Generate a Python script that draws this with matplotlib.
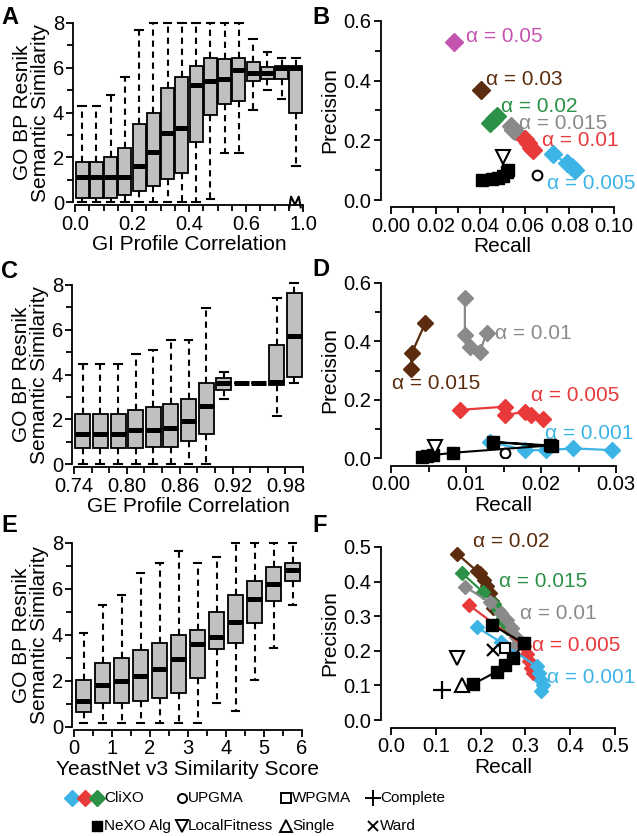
import matplotlib
matplotlib.use('Agg')
import matplotlib.pyplot as plt
from matplotlib.ticker import MultipleLocator, FixedLocator, FixedFormatter
from matplotlib.transforms import blended_transform_factory

plt.rcParams['font.family'] = ['Liberation Sans', 'DejaVu Sans']
plt.rcParams['axes.linewidth'] = 1.3

# ---------------- data ----------------
# box stats: (whisker low, q1, median, q3, whisker high)
A_bins = [0.025, 0.075, 0.125, 0.175, 0.225, 0.275, 0.325, 0.375,
          0.425, 0.475, 0.525, 0.575, 0.625, 0.675, 0.725, 0.975]
A_stats = [(0, 0.2, 1.1, 1.8, 4.3), (0, 0.2, 1.1, 1.8, 4.3), (0, 0.2, 1.1, 2.0, 4.8),
           (0, 0.3, 1.1, 2.4, 5.6), (0, 0.5, 1.6, 3.5, 7.7), (0, 0.7, 2.25, 4.0, 8.0),
           (0, 1.05, 3.1, 5.1, 8.0), (0, 1.3, 3.3, 5.6, 8.0), (0, 2.7, 5.25, 6.1, 8.0),
           (0.15, 3.9, 5.4, 6.45, 8.0), (2.2, 4.4, 5.5, 6.4, 8.0), (2.2, 4.5, 5.9, 6.45, 8.0),
           (4.1, 5.4, 5.75, 6.25, 7.3), (5.0, 5.5, 5.75, 6.05, 6.7), (4.6, 5.5, 6.0, 6.1, 6.45),
           (1.6, 4.0, 6.0, 6.1, 6.45)]

C_bins = [0.75, 0.77, 0.79, 0.81, 0.83, 0.85, 0.87, 0.89, 0.91, 0.93, 0.95, 0.97, 0.99]
C_stats = [(0, 0.7, 1.35, 2.23, 4.46), (0, 0.7, 1.35, 2.23, 4.46), (0, 0.7, 1.35, 2.23, 4.46),
           (0, 0.7, 1.53, 2.42, 4.92), (0, 0.75, 1.53, 2.53, 5.1), (0, 0.75, 1.6, 2.68, 5.52),
           (0, 1.05, 1.93, 2.9, 5.52), (0, 1.35, 2.6, 3.61, 6.99), (2.9, 3.32, 3.6, 3.84, 4.09),
           (3.6, 3.6, 3.6, 3.6, 3.6), (3.6, 3.6, 3.6, 3.6, 3.6), (2.13, 3.55, 3.65, 5.32, 7.4),
           (3.64, 3.91, 5.72, 7.66, 8.1)]

E_bins = [0.25, 0.75, 1.25, 1.75, 2.25, 2.75, 3.25, 3.75, 4.25, 4.75, 5.25, 5.75]
E_stats = [(0.18, 0.66, 1.15, 2.06, 4.07), (0.18, 1.06, 1.84, 2.79, 5.32), (0.18, 1.06, 2.01, 2.98, 5.73),
           (0.18, 1.13, 2.2, 3.35, 6.71), (0.18, 1.28, 2.54, 3.67, 7.15), (0.18, 1.5, 2.94, 4.01, 7.64),
           (0.18, 2.13, 3.63, 4.21, 7.15), (1.03, 3.41, 3.92, 5.02, 7.37), (0.7, 3.67, 4.58, 5.76, 8.0),
           (2.03, 4.52, 5.58, 6.34, 8.0), (3.45, 5.5, 6.21, 6.97, 8.0), (5.29, 6.36, 6.83, 7.15, 8.0)]

# precision / recall, CliXO per alpha
B_alpha = ['0.05', '0.03', '0.02', '0.015', '0.01', '0.005']
B_x = [[0.0284], [0.0404], [0.0445, 0.046, 0.0475], [0.054, 0.0545, 0.0555],
       [0.0602, 0.0615, 0.063, 0.0638], [0.0728, 0.0788, 0.081, 0.0825]]
B_y = [[0.528], [0.370], [0.257, 0.27, 0.283], [0.248, 0.235, 0.23],
       [0.206, 0.19, 0.175, 0.167], [0.153, 0.123, 0.112, 0.10]]
B_nexo_x = [0.0407, 0.0455, 0.048, 0.050, 0.052, 0.0525]
B_nexo_y = [0.067, 0.072, 0.074, 0.08, 0.095, 0.10]
B_local = (0.0501, 0.145)
B_upgma = (0.0654, 0.084)

D_alpha = ['0.015', '0.01', '0.005', '0.001']
D_x = [[0.00456, 0.00276, 0.00262],
       [0.00985, 0.00985, 0.0105, 0.01185, 0.01274],
       [0.0092, 0.0152, 0.0152, 0.0179, 0.0187, 0.0203],
       [0.0132, 0.0179, 0.0207, 0.0243, 0.0294]]
D_y = [[0.462, 0.359, 0.304],
       [0.547, 0.422, 0.382, 0.364, 0.428],
       [0.165, 0.176, 0.147, 0.159, 0.147, 0.133],
       [0.056, 0.027, 0.027, 0.033, 0.027]]
D_nexo_x = [0.0041, 0.0048, 0.0056, 0.0083, 0.0212, 0.0136, 0.0214]
D_nexo_y = [0.004, 0.006, 0.010, 0.018, 0.043, 0.055, 0.040]
D_local = (0.0059, 0.039)
D_upgma = (0.0152, 0.016)

F_alpha = ['0.02', '0.015', '0.01', '0.005', '0.001']
F_x = [[0.147, 0.192, 0.199, 0.207, 0.214, 0.221, 0.225, 0.227],
       [0.158, 0.205, 0.23, 0.24, 0.25, 0.255, 0.26],
       [0.166, 0.22, 0.245, 0.26, 0.27, 0.28, 0.275],
       [0.173, 0.296, 0.303, 0.308, 0.312, 0.317],
       [0.192, 0.245, 0.325, 0.33, 0.335, 0.34, 0.335]]
F_y = [[0.481, 0.43, 0.425, 0.406, 0.386, 0.367, 0.343, 0.324],
       [0.425, 0.37, 0.335, 0.315, 0.295, 0.28, 0.265],
       [0.385, 0.34, 0.31, 0.29, 0.265, 0.24, 0.21],
       [0.333, 0.215, 0.19, 0.17, 0.15, 0.135],
       [0.268, 0.225, 0.155, 0.135, 0.115, 0.10, 0.085]]
F_nexo_x = [0.184, 0.236, 0.255, 0.273, 0.296, 0.225]
F_nexo_y = [0.104, 0.14, 0.159, 0.179, 0.222, 0.275]
F_local = (0.147, 0.179)
F_single = (0.158, 0.101)
F_complete = (0.114, 0.087)
F_wpgma = (0.255, 0.208)
F_ward = (0.227, 0.203)

# ---------------- style ----------------
col = {'0.05': '#c553b0', '0.03': '#5b2c0d', '0.02': '#2a9146', '0.015': '#8a8a8a',
       '0.01': '#e8393b', '0.005': '#3db4e6'}
colD = {'0.015': '#5b2c0d', '0.01': '#8a8a8a', '0.005': '#e8393b', '0.001': '#3db4e6'}
colF = {'0.02': '#5b2c0d', '0.015': '#2a9146', '0.01': '#8a8a8a', '0.005': '#e8393b', '0.001': '#3db4e6'}

W, H = 637, 836
fig = plt.figure(figsize=(W / 100, H / 100), dpi=100)
FS = 15


def px_axes(left, top, right, bottom):
    return fig.add_axes([left / W, 1 - bottom / H, (right - left) / W, (bottom - top) / H])


def style(ax, left_off, bottom_off):
    for s in ['top', 'right']:
        ax.spines[s].set_visible(False)
    ax.spines['left'].set_position(('outward', left_off))
    ax.spines['bottom'].set_position(('outward', bottom_off))
    ax.tick_params(which='major', length=5, width=1.3, labelsize=14.5, direction='out')
    ax.tick_params(which='minor', length=4, width=1.3, direction='out')
    ax.tick_params(axis='y', pad=1.5)
    ax.tick_params(axis='x', pad=2)


def box_panel(ax, pos, stats, width, capw):
    bx = [dict(whislo=s[0], q1=s[1], med=s[2], q3=s[3], whishi=s[4]) for s in stats]
    art = ax.bxp(bx, positions=pos, widths=width, capwidths=capw, showfliers=False,
                 patch_artist=True, manage_ticks=False,
                 boxprops=dict(facecolor='#c0c0c2', edgecolor='black', linewidth=1.3),
                 medianprops=dict(color='black', linewidth=3.6, solid_capstyle='butt'),
                 whiskerprops=dict(color='black', linewidth=1.5, linestyle=(0, (3, 2.3))),
                 capprops=dict(color='black', linewidth=1.5))
    for k in art:
        for a in art[k]:
            a.set_clip_on(False)
    ax.set_ylim(0, 8)
    ax.yaxis.set_major_locator(MultipleLocator(2))
    ax.yaxis.set_minor_locator(MultipleLocator(1))
    ax.set_ylabel('GO BP Resnik\nSemantic Similarity', fontsize=FS, labelpad=2, linespacing=0.95)


# ---------------- A ----------------
axA = px_axes(75, 23, 303, 202)
A_pos = [b if b < 0.8 else 0.775 for b in A_bins]
box_panel(axA, A_pos, A_stats, 0.045, 0.027)
axA.set_xlim(0, 0.8)
axA.xaxis.set_major_locator(FixedLocator([0, 0.2, 0.4, 0.6, 0.8]))
axA.xaxis.set_major_formatter(FixedFormatter(['0.0', '0.2', '0.4', '0.6', '1.0']))
axA.xaxis.set_minor_locator(MultipleLocator(0.05))
style(axA, 1.5, 2)
axA.set_xlabel('GI Profile Correlation', fontsize=FS, labelpad=1)
# axis break mark
tr = blended_transform_factory(axA.transData, axA.transAxes)
axA.plot([0.752, 0.758, 0.772, 0.785, 0.792], [-0.03, 0.03, -0.015, 0.03, -0.03],
         color='black', lw=1.5, transform=tr, clip_on=False, zorder=5)

# ---------------- C ----------------
axC = px_axes(74, 285, 303, 464)
box_panel(axC, C_bins, C_stats, 0.017, 0.009)
axC.set_xlim(0.74, 1.0)
axC.xaxis.set_major_locator(FixedLocator([0.74, 0.80, 0.86, 0.92, 0.98]))
axC.xaxis.set_major_formatter(FixedFormatter(['0.74', '0.80', '0.86', '0.92', '0.98']))
axC.xaxis.set_minor_locator(MultipleLocator(0.02))
style(axC, 1.5, 2)
axC.set_xlabel('GE Profile Correlation', fontsize=FS, labelpad=1)

# ---------------- E ----------------
axE = px_axes(74, 543, 302, 727)
box_panel(axE, E_bins, E_stats, 0.41, 0.21)
axE.set_xlim(0, 6)
axE.xaxis.set_major_locator(MultipleLocator(1))
axE.xaxis.set_minor_locator(MultipleLocator(0.5))
style(axE, 1.5, 2)
axE.set_xlabel('YeastNet v3 Similarity Score', fontsize=FS, labelpad=1)


def pr_panel(ax, alphas, xs, ys, colors, ms, nexo_x, nexo_y, ms_sq):
    for a, x, y in zip(alphas, xs, ys):
        ax.plot(x, y, color=colors[a], lw=1.6, marker='D', ms=ms, mec=colors[a], zorder=3,
                clip_on=False)
    ax.plot(nexo_x, nexo_y, color='black', lw=1.5, marker='s', ms=ms_sq, zorder=4, clip_on=False)
    ax.set_ylabel('Precision', fontsize=FS, labelpad=3)
    ax.set_xlabel('Recall', fontsize=FS, labelpad=1)


# ---------------- B ----------------
axB = px_axes(391, 21, 614, 200)
pr_panel(axB, B_alpha, B_x, B_y, col, 9, B_nexo_x, B_nexo_y, 8.5)
axB.plot(*B_local, marker='v', ms=10, mfc='white', mec='black', mew=1.5, ls='none', zorder=5)
axB.plot(*B_upgma, marker='o', ms=7, mfc='white', mec='black', mew=1.5, ls='none', zorder=5)
axB.set_xlim(0, 0.1)
axB.set_ylim(0, 0.6)
axB.xaxis.set_major_locator(MultipleLocator(0.02))
axB.xaxis.set_minor_locator(MultipleLocator(0.01))
axB.xaxis.set_major_formatter(plt.FormatStrFormatter('%.2f'))
axB.yaxis.set_major_locator(MultipleLocator(0.2))
axB.yaxis.set_minor_locator(MultipleLocator(0.1))
axB.yaxis.set_major_formatter(plt.FormatStrFormatter('%.1f'))
style(axB, 7.5, 5)
B_lab = {'0.05': (0.0335, 0.547), '0.03': (0.0425, 0.405), '0.02': (0.0495, 0.315),
         '0.015': (0.0575, 0.257), '0.01': (0.0675, 0.20), '0.005': (0.0698, 0.056)}
for a in B_alpha:
    axB.text(*B_lab[a], 'α = ' + a, color=col[a], fontsize=FS, ha='left', va='center')

# ---------------- D ----------------
axD = px_axes(391, 283, 616, 458)
pr_panel(axD, D_alpha, D_x, D_y, colD, 8.5, D_nexo_x, D_nexo_y, 8)
axD.plot(*D_local, marker='v', ms=10, mfc='white', mec='black', mew=1.5, ls='none', zorder=5)
axD.plot(*D_upgma, marker='o', ms=7, mfc='white', mec='black', mew=1.5, ls='none', zorder=5)
axD.set_xlim(0, 0.03)
axD.set_ylim(0, 0.6)
axD.xaxis.set_major_locator(MultipleLocator(0.01))
axD.xaxis.set_minor_locator(MultipleLocator(0.005))
axD.xaxis.set_major_formatter(plt.FormatStrFormatter('%.2f'))
axD.yaxis.set_major_locator(MultipleLocator(0.2))
axD.yaxis.set_minor_locator(MultipleLocator(0.1))
axD.yaxis.set_major_formatter(plt.FormatStrFormatter('%.1f'))
style(axD, 7.5, 5.5)
D_lab = {'0.015': (0.0001, 0.256), '0.01': (0.0139, 0.428), '0.005': (0.0187, 0.216),
         '0.001': (0.0205, 0.085)}
for a in D_alpha:
    axD.text(*D_lab[a], 'α = ' + a, color=colD[a], fontsize=FS, ha='left', va='center')

# ---------------- F ----------------
axF = px_axes(391, 547, 615, 720)
pr_panel(axF, F_alpha, F_x, F_y, colF, 7.5, F_nexo_x, F_nexo_y, 8)
axF.plot(*F_local, marker='v', ms=10, mfc='white', mec='black', mew=1.5, ls='none', zorder=5)
axF.plot(*F_single, marker='^', ms=10, mfc='white', mec='black', mew=1.5, ls='none', zorder=5)
axF.plot(*F_complete, marker='+', ms=13, mec='black', mew=1.6, ls='none', zorder=5)
axF.plot(*F_wpgma, marker='s', ms=7, mfc='white', mec='black', mew=1.5, ls='none', zorder=5)
axF.plot(*F_ward, marker='x', ms=8, mec='black', mew=1.6, ls='none', zorder=5)
axF.set_xlim(0, 0.5)
axF.set_ylim(0, 0.5)
axF.xaxis.set_major_locator(MultipleLocator(0.1))
axF.yaxis.set_major_locator(MultipleLocator(0.1))
axF.xaxis.set_major_formatter(plt.FormatStrFormatter('%.1f'))
axF.yaxis.set_major_formatter(plt.FormatStrFormatter('%.1f'))
style(axF, 7.5, 5.5)
F_lab = {'0.02': (0.184, 0.515), '0.015': (0.24, 0.40), '0.01': (0.288, 0.309),
         '0.005': (0.314, 0.214), '0.001': (0.348, 0.124)}
for a in F_alpha:
    axF.text(*F_lab[a], 'α = ' + a, color=colF[a], fontsize=FS, ha='left', va='center')

# ---------------- panel letters ----------------
for lab, x, y in [('A', 1, 6), ('B', 312, 6), ('C', 1, 260), ('D', 312, 258),
                  ('E', 1, 514), ('F', 312, 514)]:
    fig.text(x / W, 1 - y / H, lab, fontsize=17, fontweight='bold', ha='left', va='top')

# ---------------- legend ----------------
lax = fig.add_axes([0, 0, 1, 1])
lax.set_xlim(0, W)
lax.set_ylim(H, 0)
lax.axis('off')
lfont = dict(fontsize=11, ha='left', va='center')
r1, r2 = 798, 826
for xx, c in [(72, col['0.005']), (84.5, col['0.01']), (97, col['0.02'])]:
    lax.plot(xx, r1, marker='D', ms=8, color=c, ls='none')
lax.text(104, r1, 'CliXO', **lfont)
lax.plot(182, r1, marker='o', ms=6.5, mfc='white', mec='black', mew=1.4, ls='none')
lax.text(188, r1, 'UPGMA', **lfont)
lax.plot(286, r1, marker='s', ms=6.5, mfc='white', mec='black', mew=1.4, ls='none')
lax.text(292, r1, 'WPGMA', **lfont)
lax.plot(373, r1, marker='+', ms=11, mec='black', mew=1.4, ls='none')
lax.text(380, r1, 'Complete', **lfont)
lax.plot(97, r2, marker='s', ms=7, color='black', ls='none')
lax.text(104, r2, 'NeXO Alg', **lfont)
lax.plot(182, r2, marker='v', ms=8, mfc='white', mec='black', mew=1.4, ls='none')
lax.text(188, r2, 'LocalFitness', **lfont)
lax.plot(286, r2, marker='^', ms=8, mfc='white', mec='black', mew=1.4, ls='none')
lax.text(292, r2, 'Single', **lfont)
lax.plot(373, r2, marker='x', ms=7, mec='black', mew=1.4, ls='none')
lax.text(380, r2, 'Ward', **lfont)

fig.savefig('out.png', dpi=100)
